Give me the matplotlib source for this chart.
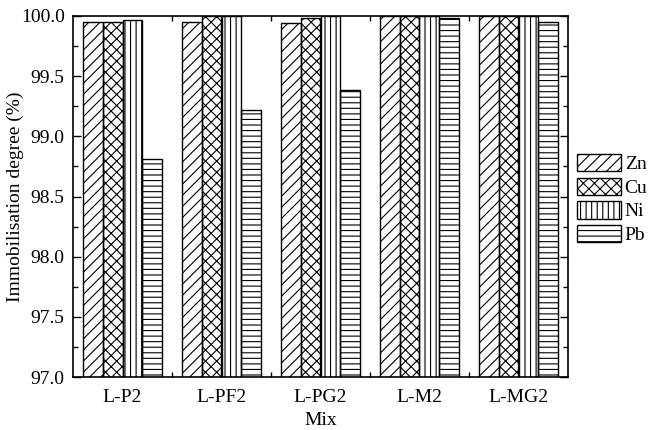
import matplotlib
matplotlib.use("Agg")
import matplotlib.pyplot as plt
import numpy as np
from matplotlib.patches import Patch
from matplotlib.ticker import MultipleLocator, FixedLocator

plt.rcParams['font.family'] = ['Liberation Serif', 'DejaVu Serif']
plt.rcParams['hatch.linewidth'] = 0.8

mixes = ["L-P2", "L-PF2", "L-PG2", "L-M2", "L-MG2"]
metals = ["Zn", "Cu", "Ni", "Pb"]
zn = [99.95, 99.95, 99.94, 100.0, 100.0]
cu = [99.95, 100.0, 99.98, 100.0, 100.0]
ni = [99.97, 100.0, 100.0, 100.0, 100.0]
pb = [98.81, 99.22, 99.385, 99.98, 99.95]
series = [zn, cu, ni, pb]
hatches = ['///', 'xxx', '|||', '---']

fig = plt.figure(figsize=(6.48, 4.30), dpi=100)
ax = fig.add_axes([73/648, 1-377/430, (568-73)/648, (377-16)/430])

x = np.arange(len(mixes))
w = 0.2
for i, (vals, h) in enumerate(zip(series, hatches)):
    ax.bar(x + (i - 1.5) * w, vals, width=w, bottom=0, fill=False,
           hatch=h, edgecolor='black', linewidth=1.0, label=metals[i])

ax.set_ylim(97.0, 100.0)
ax.set_xlim(-0.5, 4.5)
ax.set_xticks(x)
ax.set_xticklabels(mixes)
ax.xaxis.set_minor_locator(FixedLocator([0.5, 1.5, 2.5, 3.5]))
ax.yaxis.set_major_locator(MultipleLocator(0.5))
ax.yaxis.set_minor_locator(MultipleLocator(0.25))
ax.yaxis.set_major_formatter(matplotlib.ticker.FormatStrFormatter('%.1f'))

ax.tick_params(axis='y', which='major', direction='in', length=6, width=1.0,
               right=True, labelsize=14, pad=6)
ax.tick_params(axis='y', which='minor', direction='in', length=3.5, width=1.0, right=True)
ax.tick_params(axis='x', which='major', length=0, labelsize=14, pad=9)
ax.tick_params(axis='x', which='minor', direction='in', length=3.5, width=1.0, top=True)

for s in ax.spines.values():
    s.set_linewidth(1.2)

ax.set_ylabel("Immobilisation degree (%)", fontsize=14)
ax.yaxis.set_label_coords(-0.1, 0.5)
ax.set_xlabel("Mix", fontsize=14, labelpad=4)

handles = [Patch(facecolor='white', edgecolor='black', hatch=h, linewidth=1.0) for h in hatches]
fig.legend(handles, metals, loc='center left', bbox_to_anchor=(577/648, 1-199/430),
           frameon=False, fontsize=14, handlelength=2.25, handleheight=1.0,
           labelspacing=0.22, handletextpad=0.2, borderpad=0, borderaxespad=0)

fig.savefig("out.png", dpi=100)
